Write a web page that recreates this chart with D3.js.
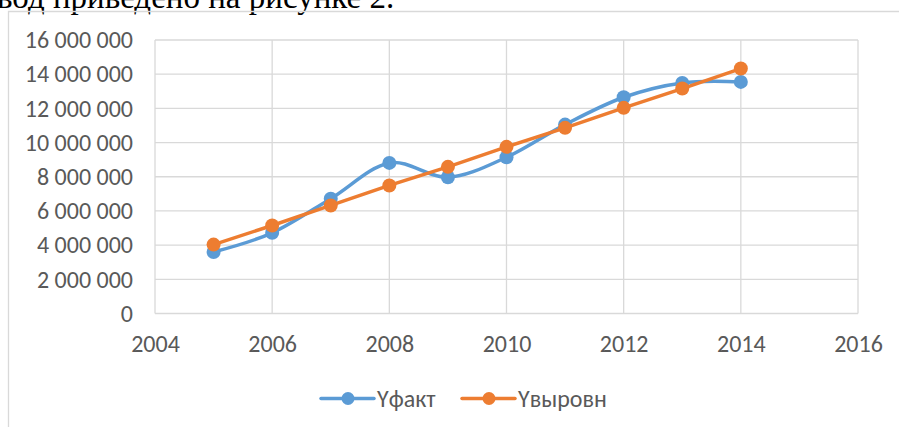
<!DOCTYPE html>
<html>
<head>
  <meta charset="UTF-8">
  <script src="https://d3js.org/d3.v7.min.js"></script>
  <title>Yфакт / Yвыровн</title>
  <style>
    body { margin: 0; background: #fff; }
    svg { display: block; }
  </style>
</head>
<body>
  <svg id="chart"></svg>
  <script>

    // data
    var years = [2005, 2006, 2007, 2008, 2009, 2010, 2011, 2012, 2013, 2014];
    var yFact = [3600000, 4720000, 6720000, 8810000, 7970000, 9140000, 11050000, 12650000, 13490000, 13550000];
    var yAligned = [4030000, 5150000, 6320000, 7490000, 8580000, 9750000, 10860000, 12030000, 13160000, 14330000];
    var xTicks = [2004, 2006, 2008, 2010, 2012, 2014, 2016];
    var yTicks = [0, 2000000, 4000000, 6000000, 8000000, 10000000, 12000000, 14000000, 16000000];
    var seriesNames = ["Yфакт", "Yвыровн"];
    var colors = ["#5B9BD5", "#ED7D31"];

    var width = 899;
    var height = 427;
    var font = "Carlito, 'Open Sans', sans-serif";
    var fontSize = 24;

    var svg = d3.select("#chart")
        .attr("width", width)
        .attr("height", height);

    // line of document text cut at the top
    svg.append("text")
        .attr("x", -3)
        .attr("y", 8)
        .attr("font-family", "'Liberation Serif', 'Times New Roman', serif")
        .attr("font-size", 33)
        .attr("fill", "#000")
        .text("вод приведено на рисунке 2.");

    // chart frame
    svg.append("path")
        .attr("d", "M8.5,428 V11.5 H900")
        .attr("fill", "none")
        .attr("stroke", "#D9D9D9")
        .attr("stroke-width", 1.3);

    var x = d3.scaleLinear().domain([2004, 2016]).range([155, 858]);
    var y = d3.scaleLinear().domain([0, 16000000]).range([313.5, 40]);

    var fmt = function(d) {
        return d3.format(",")(d).replace(/,/g, " ");
    };

    // gridlines
    svg.append("g")
        .selectAll("line.h")
        .data(yTicks)
        .enter().append("line")
        .attr("x1", x(2004)).attr("x2", x(2016))
        .attr("y1", function(d) { return y(d); })
        .attr("y2", function(d) { return y(d); })
        .attr("stroke", "#D9D9D9")
        .attr("stroke-width", 1.3);

    svg.append("g")
        .selectAll("line.v")
        .data(xTicks)
        .enter().append("line")
        .attr("x1", function(d) { return x(d); })
        .attr("x2", function(d) { return x(d); })
        .attr("y1", y(0)).attr("y2", y(16000000))
        .attr("stroke", "#D9D9D9")
        .attr("stroke-width", 1.3);

    // axes (labels only, lines drawn as grid)
    var yAxis = svg.append("g")
        .attr("transform", "translate(" + 133 + ",0)")
        .call(d3.axisLeft(y).tickValues(yTicks).tickSize(0).tickPadding(0).tickFormat(fmt));
    var xAxis = svg.append("g")
        .attr("transform", "translate(0," + 335 + ")")
        .call(d3.axisBottom(x).tickValues(xTicks).tickSize(0).tickPadding(0).tickFormat(d3.format("d")));

    [yAxis, xAxis].forEach(function(a) {
        a.select(".domain").remove();
        a.selectAll("text")
            .attr("font-family", font)
            .attr("font-size", fontSize)
            .attr("fill", "#595959");
    });

    var series = [yFact, yAligned];
    var curves = [d3.curveCatmullRom.alpha(0), d3.curveLinear];

    series.forEach(function(vals, i) {
        var line = d3.line()
            .x(function(d, j) { return x(years[j]); })
            .y(function(d) { return y(d); })
            .curve(curves[i]);

        svg.append("path")
            .datum(vals)
            .attr("d", line)
            .attr("fill", "none")
            .attr("stroke", colors[i])
            .attr("stroke-width", 3.5)
            .attr("stroke-linecap", "round");

        svg.append("g")
            .selectAll("circle")
            .data(vals)
            .enter().append("circle")
            .attr("cx", function(d, j) { return x(years[j]); })
            .attr("cy", function(d) { return y(d); })
            .attr("r", 7)
            .attr("fill", colors[i]);
    });

    // legend
    var legendX = [321, 462];
    var legend = svg.append("g");
    seriesNames.forEach(function(name, i) {
        var g = legend.append("g").attr("transform", "translate(" + legendX[i] + ",398.5)");
        g.append("line")
            .attr("x1", 0).attr("x2", 53)
            .attr("stroke", colors[i])
            .attr("stroke-width", 3.5)
            .attr("stroke-linecap", "round");
        g.append("circle")
            .attr("cx", 27).attr("r", 6.5)
            .attr("fill", colors[i]);
        g.append("text")
            .attr("x", 56)
            .attr("y", 8)
            .attr("font-family", font)
            .attr("font-size", fontSize)
            .attr("fill", "#595959")
            .text(name);
    });

  </script>
</body>
</html>
